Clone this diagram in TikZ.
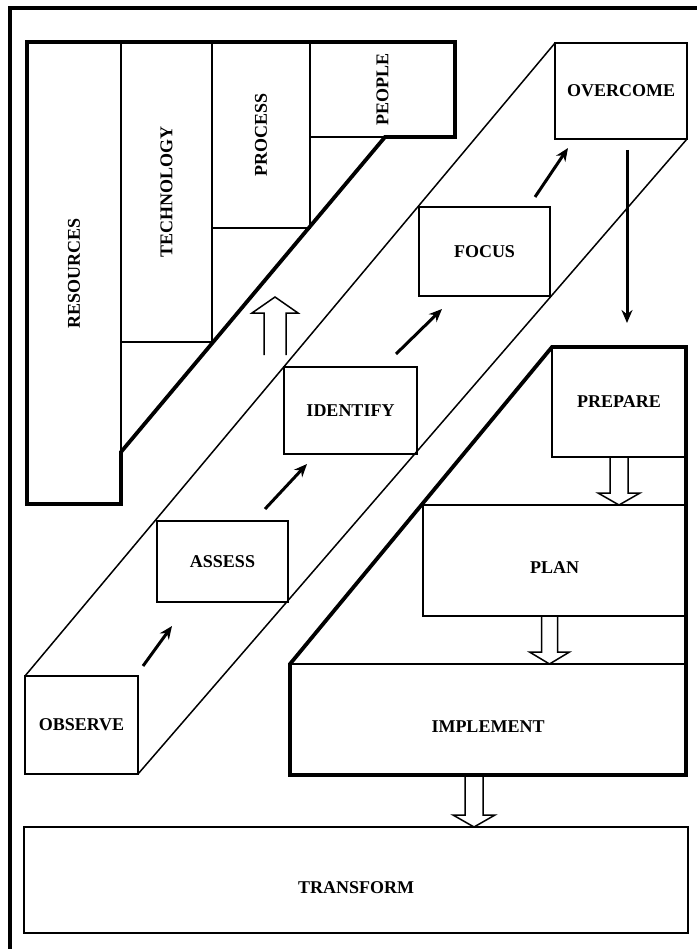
\documentclass[tikz,border=0pt]{standalone}
\usepackage{fontspec}
\setmainfont{Liberation Serif}
\usetikzlibrary{arrows.meta}
\usetikzlibrary{positioning}
\usetikzlibrary{calc}

% open block arrow: from, to, half shaft, half head, head length
\newcommand{\hollowarrow}[5]{%
	\coordinate (ha_b) at ($(#2)!#5!(#1)$);
	\draw[hollow] ($(#1)!#3!90:(#2)$) -- ($(ha_b)!#3!90:(#2)$) -- ($(ha_b)!#4!90:(#2)$) -- (#2)
	-- ($(ha_b)!#4!-90:(#2)$) -- ($(ha_b)!#3!-90:(#2)$) -- ($(#1)!#3!-90:(#2)$);
}

\begin{document}
\begin{tikzpicture}[x=1pt,y=-1pt,font=\fontsize{18}{20}\selectfont\bfseries]
	\tikzstyle{every node}=[inner sep=0pt,outer sep=0pt]
	\tikzstyle{box}=[draw,line width=1.5pt,rectangle]
	\tikzstyle{lowbox}=[box,text height=26pt,text depth=0pt]
	\tikzstyle{col}=[box,rotate=90]
	\tikzstyle{heavy}=[line width=3.8pt,line join=miter]
	\tikzstyle{flow}=[line width=3pt,-{Stealth[length=13pt,width=11pt]}]
	\tikzstyle{hollow}=[line width=1.5pt,line join=miter]
	
	\useasboundingbox (0,0) rectangle (696,949);
	
	% frame
	\draw[line width=4.5pt] (10,952) -- (10,8) -- (700,8);
	
	% resources block
	\node[col,minimum width=462,minimum height=94] (resources)  at (74,273)    {RESOURCES};
	\node[col,minimum width=300,minimum height=91] (technology) at (166.5,192) {TECHNOLOGY};
	\node[col,minimum width=186,minimum height=98] (process)    at (261,135)   {PROCESS};
	\node[col,minimum width=95,minimum height=145] (people)     at (382.5,89.5) {PEOPLE};
	\draw[heavy] (27,42) -- (455,42) -- (455,137) -- (385,137) -- (121,452) -- (121,504) -- (27,504) -- cycle;
	
	% the way up
	\node[box,minimum width=113,minimum height=98] (observe)  at (81.5,725)   {OBSERVE};
	\node[box,minimum width=131,minimum height=81] (assess)   at (222.5,561.5) {ASSESS};
	\node[box,minimum width=133,minimum height=87] (identify) at (350.5,410.5) {IDENTIFY};
	\node[box,minimum width=131,minimum height=89] (focus)    at (484.5,251.5) {FOCUS};
	\node[box,minimum width=132,minimum height=96] (overcome) at (621,91)      {OVERCOME};
	\draw[line width=1.5pt] (observe.north west) -- (overcome.north west);
	\draw[line width=1.5pt] (observe.south east) -- (overcome.south east);
	
	\draw[flow] ($(observe.north east)+(5,-10)$)   -- ($(assess.south west)+(15,24)$);
	\draw[flow] ($(assess.north east)+(-23,-12)$)  -- ($(identify.south west)+(23,10)$);
	\draw[flow] ($(identify.north east)+(-21,-13)$) -- ($(focus.south west)+(23,13)$);
	\draw[flow] ($(focus.north east)+(-15,-10)$)   -- ($(overcome.south west)+(13,9)$);
	
	\coordinate (lift_base) at (275,355);
	\coordinate (lift_tip)  at (275,297);
	\hollowarrow{lift_base}{lift_tip}{11pt}{23pt}{16pt}
	
	% right block
	\node[box,minimum width=134,minimum height=110] (prepare)      at (619,402)     {PREPARE};
	\node[lowbox,minimum width=263,minimum height=111] (plan)      at (554.5,560.5) {PLAN};
	\node[lowbox,minimum width=396,minimum height=111] (implement) at (488,719.5)   {IMPLEMENT};
	\draw[heavy] (prepare.north west) -- (prepare.north east) -- (implement.south east)
	-- (implement.south west) -- (implement.north west) -- cycle;
	
	\draw[flow] ($(overcome.south)+(6,11)$) -- ($(prepare.north)+(8,-24)$);
	
	\node[lowbox,minimum width=664,minimum height=106] (transform) at (356,880) {TRANSFORM};
	
	\coordinate (plan_out) at ($(plan.south)+(-5,0)$);
	\coordinate (impl_out) at ($(implement.south)+(-14,0)$);
	\hollowarrow{prepare.south}{prepare.south |- plan.north}{9pt}{21pt}{12pt}
	\hollowarrow{plan_out}{plan_out |- implement.north}{8pt}{20pt}{12pt}
	\hollowarrow{impl_out}{impl_out |- transform.north}{9pt}{21pt}{12pt}
\end{tikzpicture}
\end{document}
